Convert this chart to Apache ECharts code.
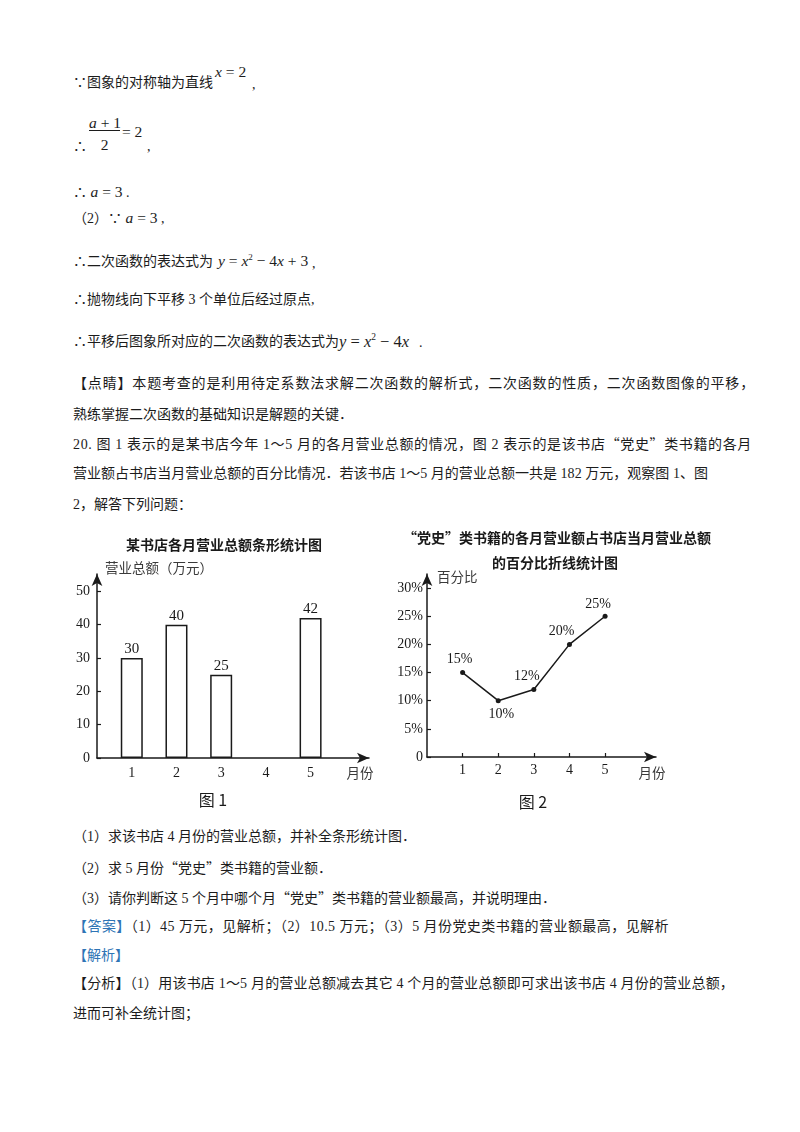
<!DOCTYPE html>
<html><head><meta charset="utf-8">
<script src="https://cdn.jsdelivr.net/npm/echarts@6/dist/echarts.min.js"></script>
<style>
html,body{margin:0;padding:0;background:#fff;}
body{width:800px;height:1132px;position:relative;overflow:hidden;font-family:"Liberation Serif","Noto Sans CJK SC",serif;font-size:14px;color:#1c1c1c;}
.t{position:absolute;left:73px;white-space:nowrap;line-height:20px;height:20px;}
.a{position:absolute;white-space:nowrap;line-height:20px;height:20px;}
.c{font-family:"Noto Sans CJK SC";}
.m{font-family:"Liberation Serif";font-size:15.5px;}
i{font-family:"Liberation Serif";}
.blue{color:#2e74b5;}
#chart{position:absolute;left:0;top:520px;width:800px;height:300px;}
</style></head>
<body>
<!-- text lines -->
<div class="t" style="top:73px">∵图象的对称轴为直线</div>
<div class="a m" style="left:215px;top:62px"><i>x</i> = 2</div>
<div class="a" style="left:252px;top:75px">,</div>

<div class="t" style="top:137px">∴</div>
<div class="a m" style="left:89px;top:113px;width:31px;text-align:center"><i>a</i> + 1</div>
<div class="a" style="left:89px;top:130px;width:31px;height:1px;background:#1c1c1c"></div>
<div class="a m" style="left:89px;top:135px;width:31px;text-align:center">2</div>
<div class="a m" style="left:122px;top:122px">= 2</div>
<div class="a" style="left:147px;top:137px">,</div>

<div class="t" style="top:182px">∴ <span class="m"><i>a</i> = 3</span> .</div>
<div class="t" style="top:208px">（2）∵ <span class="m"><i>a</i> = 3</span> ,</div>

<div class="t" style="top:252px">∴二次函数的表达式为</div>
<div class="a m" style="left:218px;top:247px"><i>y</i> = <i>x</i><sup style="font-size:9px">2</sup> − 4<i>x</i> + 3</div>
<div class="a" style="left:312px;top:254px">,</div>

<div class="t" style="top:290px">∴抛物线向下平移 3 个单位后经过原点,</div>

<div class="t" style="top:332px">∴平移后图象所对应的二次函数的表达式为</div>
<div class="a m" style="left:339px;top:327px;font-size:16.5px"><i>y</i> = <i>x</i><sup style="font-size:9.5px">2</sup> − 4<i>x</i></div>
<div class="a" style="left:419px;top:333px">.</div>

<div class="t" data-w="682" style="top:374px">【点睛】本题考查的是利用待定系数法求解二次函数的解析式，二次函数的性质，二次函数图像的平移，</div>
<div class="t" style="top:405px">熟练掌握二次函数的基础知识是解题的关键．</div>
<div class="t" data-w="679" style="top:433px">20. 图 1 表示的是某书店今年 1～5 月的各月营业总额的情况，图 2 表示的是该书店<span class="c">“党史”</span>类书籍的各月</div>
<div class="t" data-w="635" style="top:464px">营业额占书店当月营业总额的百分比情况．若该书店 1～5 月的营业总额一共是 182 万元，观察图 1、图</div>
<div class="t" style="top:495px">2，解答下列问题：</div>

<div id="chart"></div>

<div class="t" style="top:827px">（1）求该书店 4 月份的营业总额，并补全条形统计图．</div>
<div class="t" style="top:857px">（2）求 5 月份<span class="c">“党史”</span>类书籍的营业额．</div>
<div class="t" style="top:887px">（3）请你判断这 5 个月中哪个月<span class="c">“党史”</span>类书籍的营业额最高，并说明理由．</div>
<div class="t" data-w="596" style="top:917px"><span class="blue">【答案】</span>（1）45 万元，见解析；（2）10.5 万元；（3）5 月份党史类书籍的营业额最高，见解析</div>
<div class="t blue" style="top:946px">【解析】</div>
<div class="t" data-w="661" style="top:974px">【分析】（1）用该书店 1～5 月的营业总额减去其它 4 个月的营业总额即可求出该书店 4 月份的营业总额，</div>
<div class="t" style="top:1004px">进而可补全统计图；</div>

<script>
// ---- data ----
const months = [1, 2, 3, 4, 5];
const monthlyTotal = [30, 40, 25, null, 42];       // 万元 (April missing in the figure)
const partyHistoryPct = [15, 10, 12, 20, 25];      // %
const totalTicks = [0, 10, 20, 30, 40, 50];
const pctTicks = [0, 5, 10, 15, 20, 25, 30];
const barTitle = '某书店各月营业总额条形统计图';
const lineTitle1 = '“党史”类书籍的各月营业额占书店当月营业总额';
const lineTitle2 = '的百分比折线统计图';
const barYName = '营业总额（万元）';
const lineYName = '百分比';
const xName = '月份';
const captions = ['图 1', '图 2'];

// ---- justify some text lines ----
function justify() {
  document.querySelectorAll('[data-w]').forEach(el => {
    el.style.letterSpacing = '0px';
    const w = +el.dataset.w;
    const nat = el.getBoundingClientRect().width;
    const n = [...el.textContent].length;
    el.style.letterSpacing = ((w - nat) / n) + 'px';
  });
}
justify();
if (document.fonts && document.fonts.ready) document.fonts.ready.then(justify);

// ---- chart ----
const ink = '#1a1a1a';
const serif = '"Liberation Serif", "Times New Roman", serif';
const axisLineStyle = { color: ink, width: 1.5 };
const arrowAxis = { show: true, symbol: ['none', 'arrow'], symbolSize: [8, 12], lineStyle: axisLineStyle };

const pctLabelPlace = [
  { position: 'top', offset: [-3, 0] },
  { position: 'bottom', offset: [3, 0] },
  { position: 'top', offset: [-7, 0] },
  { position: 'top', offset: [-8, 0] },
  { position: 'top', offset: [-7, 2] }
];

const chart = echarts.init(document.getElementById('chart'), null, { renderer: 'canvas' });
chart.setOption({
  animation: false,
  backgroundColor: 'transparent',
  grid: [
    { left: 97, top: 54, width: 272, height: 184, outerBoundsMode: 'none' },
    { left: 427, top: 54, width: 229, height: 183, outerBoundsMode: 'none' }
  ],
  xAxis: [
    {
      gridIndex: 0, type: 'value', min: 0.222, max: 6.307,
      axisLine: arrowAxis, axisTick: { show: false }, splitLine: { show: false },
      axisLabel: { customValues: months, color: ink, fontFamily: serif, fontSize: 14, margin: 8 }
    },
    {
      gridIndex: 1, type: 'value', min: 0, max: 6.43,
      axisLine: arrowAxis, splitLine: { show: false },
      axisTick: { show: true, inside: true, length: 4, customValues: months, lineStyle: { color: ink, width: 1.2 } },
      axisLabel: { customValues: months, color: ink, fontFamily: serif, fontSize: 14, margin: 6 }
    }
  ],
  yAxis: [
    {
      gridIndex: 0, type: 'value', min: 0, max: 55.2,
      axisLine: arrowAxis, splitLine: { show: false },
      axisTick: { show: true, inside: true, length: 4, customValues: totalTicks, lineStyle: { color: ink, width: 1.2 } },
      axisLabel: { customValues: totalTicks, color: ink, fontFamily: serif, fontSize: 14, margin: 7 }
    },
    {
      gridIndex: 1, type: 'value', min: 0, max: 32.5,
      axisLine: arrowAxis, splitLine: { show: false },
      axisTick: { show: true, inside: true, length: 4, customValues: pctTicks, lineStyle: { color: ink, width: 1.2 } },
      axisLabel: { customValues: pctTicks, color: ink, fontFamily: serif, fontSize: 14, margin: 4,
        formatter: v => v === 0 ? '0' : v + '%' }
    }
  ],
  series: [
    {
      type: 'bar', xAxisIndex: 0, yAxisIndex: 0, barWidth: 22,
      data: months.map((m, i) => [m, monthlyTotal[i]]),
      itemStyle: { color: '#fff', borderColor: ink, borderWidth: 1.5 },
      label: { show: true, position: 'top', distance: 1, color: ink, fontFamily: serif, fontSize: 15,
        formatter: p => p.value[1] }
    },
    {
      type: 'line', xAxisIndex: 1, yAxisIndex: 1,
      data: months.map((m, i) => ({ value: [m, partyHistoryPct[i]], label: pctLabelPlace[i] })),
      symbol: 'circle', symbolSize: 5,
      lineStyle: { color: ink, width: 1.5 }, itemStyle: { color: ink },
      label: { show: true, distance: 4, color: ink, fontFamily: serif, fontSize: 14,
        formatter: p => p.value[1] + '%' }
    }
  ],
  graphic: [
    { type: 'text', x: 224, y: 25, style: { text: barTitle, font: 'bold 14px "Noto Sans CJK SC"', fill: ink, align: 'center', verticalAlign: 'middle' } },
    { type: 'text', x: 557, y: 18, style: { text: lineTitle1, font: 'bold 14px "Noto Sans CJK SC"', fill: ink, align: 'center', verticalAlign: 'middle' } },
    { type: 'text', x: 555, y: 43, style: { text: lineTitle2, font: 'bold 14px "Noto Sans CJK SC"', fill: ink, align: 'center', verticalAlign: 'middle' } },
    { type: 'text', x: 105, y: 48, style: { text: barYName, font: '13.5px "Noto Sans CJK SC"', fill: '#3a3a3a', align: 'left', verticalAlign: 'middle' } },
    { type: 'text', x: 437, y: 57, style: { text: lineYName, font: '13.5px "Noto Sans CJK SC"', fill: '#3a3a3a', align: 'left', verticalAlign: 'middle' } },
    { type: 'text', x: 360, y: 253, style: { text: xName, font: '13.5px "Noto Sans CJK SC"', fill: '#3a3a3a', align: 'center', verticalAlign: 'middle' } },
    { type: 'text', x: 652, y: 253, style: { text: xName, font: '13.5px "Noto Sans CJK SC"', fill: '#3a3a3a', align: 'center', verticalAlign: 'middle' } },
    { type: 'text', x: 213, y: 280, style: { text: captions[0], font: '16px "Noto Sans CJK SC"', fill: ink, align: 'center', verticalAlign: 'middle' } },
    { type: 'text', x: 533, y: 282, style: { text: captions[1], font: '16px "Noto Sans CJK SC"', fill: ink, align: 'center', verticalAlign: 'middle' } }
  ]
});
</script>
</body></html>
